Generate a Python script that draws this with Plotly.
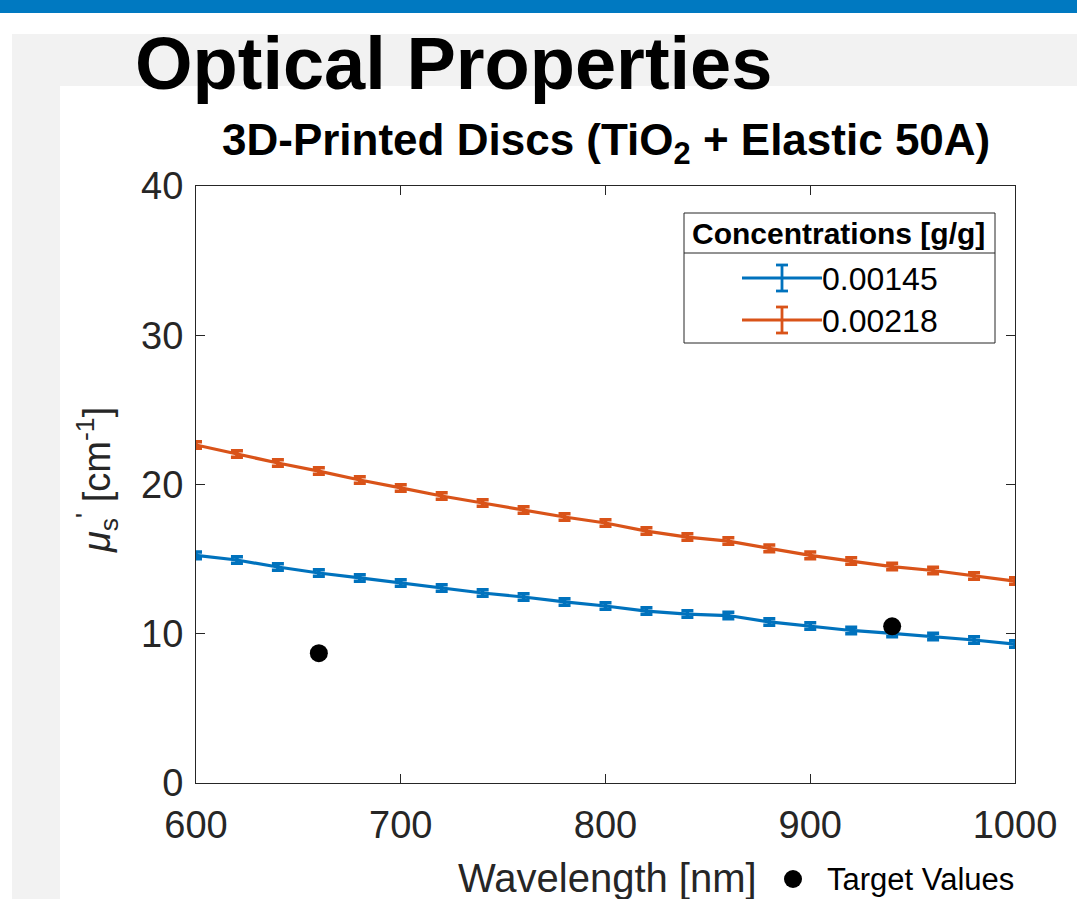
import plotly.graph_objects as go

# ---------------- data ----------------
wavelength = [600, 620, 640, 660, 680, 700, 720, 740, 760, 780, 800,
              820, 840, 860, 880, 900, 920, 940, 960, 980, 1000]
mu_s_00145 = [15.25, 14.94, 14.47, 14.07, 13.74, 13.40, 13.07, 12.73, 12.46, 12.13, 11.86,
              11.52, 11.32, 11.22, 10.79, 10.52, 10.22, 10.02, 9.82, 9.58, 9.31]
mu_s_00218 = [22.65, 22.04, 21.44, 20.90, 20.30, 19.77, 19.23, 18.76, 18.29, 17.82, 17.42,
              16.88, 16.48, 16.21, 15.72, 15.25, 14.87, 14.50, 14.24, 13.87, 13.53]
err_00145 = [0.22, 0.22, 0.22, 0.22, 0.22, 0.22, 0.22, 0.22, 0.22, 0.22, 0.22,
             0.22, 0.22, 0.22, 0.22, 0.22, 0.22, 0.22, 0.22, 0.22, 0.22]
err_00218 = [0.22, 0.22, 0.22, 0.22, 0.22, 0.22, 0.22, 0.22, 0.22, 0.22, 0.22,
             0.22, 0.22, 0.22, 0.22, 0.22, 0.22, 0.22, 0.22, 0.22, 0.22]
target_wavelength = [660, 940]
target_mu_s = [8.7, 10.5]

series_names = ["0.00145", "0.00218"]
series_colors = ["#0072BD", "#D95319"]
x_ticks = [600, 700, 800, 900, 1000]
y_ticks = [0, 10, 20, 30, 40]

# ---------------- layout geometry ----------------
W, H = 1077, 899
L, R, T, B = 196, 62, 186, 116
PW, PH = W - L - R, H - T - B


def px(x):
    return (x - L) / PW


def py(y):
    return (H - B - y) / PH


FONT = "Liberation Sans, Arial, Helvetica, sans-serif"
AXC = "#262626"

fig = go.Figure()

for name, ys, err, col in [(series_names[0], mu_s_00145, err_00145, series_colors[0]),
                           (series_names[1], mu_s_00218, err_00218, series_colors[1])]:
    fig.add_trace(go.Scatter(
        x=wavelength, y=ys, name=name, mode="lines",
        line=dict(color=col, width=3.2),
        error_y=dict(type="data", array=err, visible=True, color=col,
                     thickness=3.5, width=6),
        showlegend=False, cliponaxis=False,
    ))

fig.add_trace(go.Scatter(
    x=target_wavelength, y=target_mu_s, name="Target Values", mode="markers",
    marker=dict(color="black", size=18), showlegend=False, cliponaxis=False,
))

shapes = [
    # slide decorations
    dict(type="rect", xref="paper", yref="paper", x0=px(0), x1=px(W), y0=py(0), y1=py(13),
         fillcolor="#0079C1", line=dict(width=0), layer="below"),
    dict(type="rect", xref="paper", yref="paper", x0=px(12), x1=px(W), y0=py(34), y1=py(H),
         fillcolor="#F2F2F2", line=dict(width=0), layer="below"),
    dict(type="rect", xref="paper", yref="paper", x0=px(60), x1=px(W), y0=py(86), y1=py(H),
         fillcolor="white", line=dict(width=0), layer="below"),
    # legend box
    dict(type="rect", xref="paper", yref="paper", x0=px(684), x1=px(995), y0=py(343), y1=py(213),
         fillcolor="white", line=dict(color=AXC, width=1), layer="above"),
    dict(type="line", xref="paper", yref="paper", x0=px(684), x1=px(995), y0=py(253), y1=py(253),
         line=dict(color=AXC, width=1), layer="above"),
    # target-values legend dot
    dict(type="circle", xref="paper", yref="paper", x0=px(784), x1=px(802), y0=py(888), y1=py(870),
         fillcolor="black", line=dict(width=0), layer="above"),
]

# legend samples
for i, col in enumerate(series_colors):
    yc = 278 + i * 42
    shapes += [
        dict(type="line", xref="paper", yref="paper", x0=px(742), x1=px(822), y0=py(yc), y1=py(yc),
             line=dict(color=col, width=3.2), layer="above"),
        dict(type="line", xref="paper", yref="paper", x0=px(782), x1=px(782), y0=py(yc - 13), y1=py(yc + 13),
             line=dict(color=col, width=2.8), layer="above"),
        dict(type="line", xref="paper", yref="paper", x0=px(776), x1=px(788), y0=py(yc - 13), y1=py(yc - 13),
             line=dict(color=col, width=2.8), layer="above"),
        dict(type="line", xref="paper", yref="paper", x0=px(776), x1=px(788), y0=py(yc + 13), y1=py(yc + 13),
             line=dict(color=col, width=2.8), layer="above"),
    ]

annotations = [
    dict(text="<b>Optical Properties</b>", xref="paper", yref="paper", x=px(453), y=py(64),
         xanchor="center", yanchor="middle", showarrow=False,
         font=dict(family=FONT, size=74, color="black")),
    dict(text="<b>3D-Printed Discs (TiO<sub>2</sub> + Elastic 50A)</b>", xref="paper", yref="paper",
         x=px(606), y=py(143), xanchor="center", yanchor="middle", showarrow=False,
         font=dict(family=FONT, size=44, color="black")),
    dict(text="<b>Concentrations [g/g]</b>", xref="paper", yref="paper", x=px(838), y=py(233),
         xanchor="center", yanchor="middle", showarrow=False,
         font=dict(family=FONT, size=30, color="black")),
    dict(text="<i>μ</i><sub>s</sub><sup>'</sup> [cm<sup>-1</sup>]", xref="paper", yref="paper",
         x=px(97), y=py(480), xanchor="center", yanchor="middle", textangle=-90, showarrow=False,
         font=dict(family=FONT, size=38, color=AXC)),
    dict(text="Wavelength [nm]", xref="paper", yref="paper", x=px(607), y=py(878),
         xanchor="center", yanchor="middle", showarrow=False,
         font=dict(family=FONT, size=40, color=AXC)),
    dict(text="Target Values", xref="paper", yref="paper", x=px(825), y=py(879),
         xanchor="left", yanchor="middle", showarrow=False,
         font=dict(family=FONT, size=31, color="black")),
]
for i, nm in enumerate(series_names):
    annotations.append(dict(text=nm, xref="paper", yref="paper", x=px(820), y=py(279 + i * 42),
                            xanchor="left", yanchor="middle", showarrow=False,
                            font=dict(family=FONT, size=32, color="black")))

fig.update_layout(
    width=W, height=H,
    margin=dict(l=L, r=R, t=T, b=B, pad=0),
    paper_bgcolor="white", plot_bgcolor="white",
    font=dict(family=FONT, color=AXC),
    showlegend=False,
    shapes=shapes, annotations=annotations,
    xaxis=dict(range=[600, 1000], tickvals=x_ticks, ticks="inside", ticklen=9, tickwidth=1,
               tickcolor=AXC, showline=True, linecolor=AXC, linewidth=1, mirror="allticks",
               showgrid=False, zeroline=False, tickfont=dict(size=38, color=AXC),
               ticklabelstandoff=8),
    yaxis=dict(range=[0, 40], tickvals=y_ticks, ticks="inside", ticklen=9, tickwidth=1,
               tickcolor=AXC, showline=True, linecolor=AXC, linewidth=1, mirror="allticks",
               showgrid=False, zeroline=False, tickfont=dict(size=38, color=AXC),
               ticklabelstandoff=4),
)

fig.write_html("out.html")
